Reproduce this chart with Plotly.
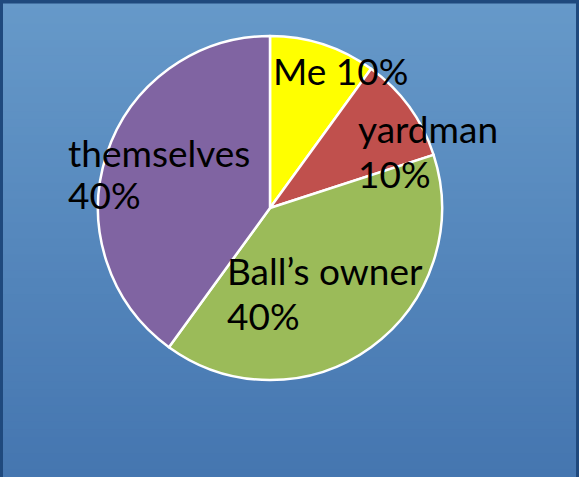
import plotly.graph_objects as go

# Who fetches the ball
categories = ["Me", "yardman", "Ball\u2019s owner", "themselves"]
shares = [10, 10, 40, 40]
slice_colors = ["#FFFF00", "#C0504D", "#9BBB59", "#8064A2"]

W, H = 579, 477

fig = go.Figure(
    go.Pie(
        labels=categories,
        values=shares,
        sort=False,
        direction="clockwise",
        rotation=0,
        marker=dict(colors=slice_colors, line=dict(color="white", width=2.5)),
        textinfo="none",
        hoverinfo="label+percent",
        showlegend=False,
        domain=dict(x=[98 / W, 442 / W], y=[1 - 380 / H, 1 - 36 / H]),
    )
)

# Vertical gradient background built from thin bands
top_rgb = (102, 153, 201)
bot_rgb = (69, 118, 176)
n_bands = 60
shapes = []
for i in range(n_bands):
    t = i / (n_bands - 1)
    c = tuple(round(a + (b - a) * t) for a, b in zip(top_rgb, bot_rgb))
    shapes.append(dict(
        type="rect", xref="paper", yref="paper", layer="below",
        x0=0, x1=1, y0=1 - (i + 1) / n_bands - 0.002, y1=1 - i / n_bands,
        fillcolor=f"rgb{c}", line=dict(width=0),
    ))
# Dark frame on top, left and right
frame = "#1F497D"
shapes += [
    dict(type="rect", xref="paper", yref="paper", layer="above",
         x0=0, x1=1, y0=1 - 3.5 / H, y1=1, fillcolor=frame, line=dict(width=0)),
    dict(type="rect", xref="paper", yref="paper", layer="above",
         x0=0, x1=3 / W, y0=0, y1=1, fillcolor=frame, line=dict(width=0)),
    dict(type="rect", xref="paper", yref="paper", layer="above",
         x0=1 - 3 / W, x1=1, y0=0, y1=1, fillcolor=frame, line=dict(width=0)),
]

# Data labels: left x, top y of the name line, top y of the percent line
# (None means the percent stays on the same line as the name)
label_pos = [(271, 46, None), (356, 104, 149), (225, 246, 291), (66, 128, 170)]
label_font = dict(family="Lato", size=37, color="black")


def add_text(text, px, py):
    return dict(
        text=text, x=px / W, y=1 - py / H,
        xref="paper", yref="paper", xanchor="left", yanchor="top",
        align="left", showarrow=False, font=label_font,
    )


annotations = []
for name, val, (px, py, py2) in zip(categories, shares, label_pos):
    if py2 is None:
        annotations.append(add_text(f"{name} {val}%", px, py))
    else:
        annotations.append(add_text(name, px, py))
        annotations.append(add_text(f"{val}%", px, py2))

fig.update_layout(
    width=W, height=H,
    margin=dict(l=0, r=0, t=0, b=0),
    paper_bgcolor="#5686BE",
    shapes=shapes,
    annotations=annotations,
)

fig.write_html("out.html")
